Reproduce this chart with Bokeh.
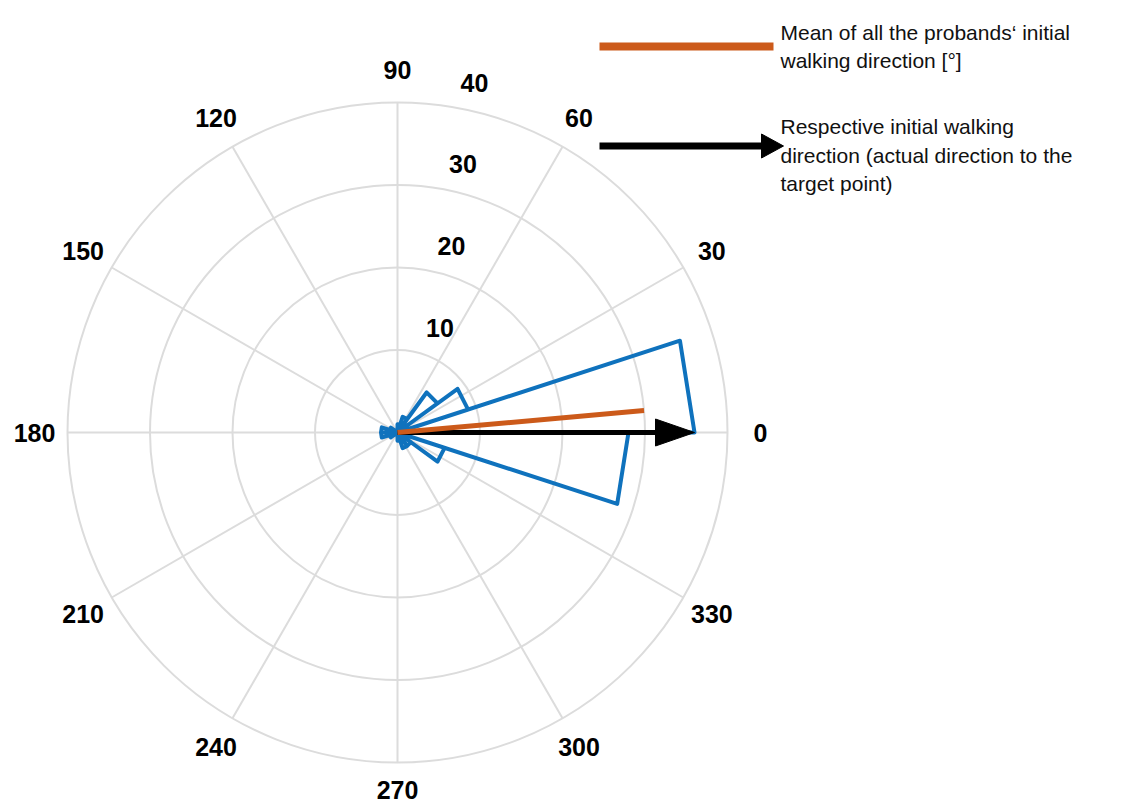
import math
from bokeh.plotting import figure
from bokeh.models import Range1d
from bokeh.core.properties import value
from bokeh.embed import file_html
from bokeh.resources import INLINE

# ---------------- data ----------------
bin_width_deg = 18
rose_counts = [36, 9, 6, 2, 1, 0, 0, 0, 1, 2, 2, 1, 0, 0, 0, 1, 2, 2, 6, 28]
mean_direction_deg = 5.1
mean_length = 30
target_direction_deg = 0
target_length = 36
ring_values = [10, 20, 30, 40]
ring_labels = ["10", "20", "30", "40"]
angle_ticks = [0, 30, 60, 90, 120, 150, 180, 210, 240, 270, 300, 330]
angle_labels = ["0", "30", "60", "90", "120", "150", "180", "210", "240", "270", "300", "330"]
legend_mean_lines = ["Mean of all the probands\u2018 initial", "walking direction [\u00b0]"]
legend_target_lines = ["Respective initial walking", "direction (actual direction to the", "target point)"]

# ---------------- layout ----------------
S = 8.25            # pixels per count unit
CX, CY = 397, 432   # canvas position of the polar origin
W, H = 1132, 805

def pg(X, Y):
    return ((X - CX) / S, (CY - Y) / S)

p = figure(width=W, height=H,
           x_range=Range1d((0 - CX) / S, (W - CX) / S),
           y_range=Range1d((CY - H) / S, CY / S),
           x_axis_type=None, y_axis_type=None,
           toolbar_location=None, output_backend="svg",
           min_border=0, outline_line_color=None)
p.background_fill_color = "white"
p.border_fill_color = "white"

GRID = "#dcdcdc"
BLUE = "#0f72bd"
ORANGE = "#cc5a1a"
FONT = value("Liberation Sans")
rmax = ring_values[-1]

# grid: rings and spokes
p.circle(x=[0] * len(ring_values), y=[0] * len(ring_values), radius=ring_values,
         fill_color=None, line_color=GRID, line_width=2)
p.segment(x0=[0] * len(angle_ticks), y0=[0] * len(angle_ticks),
          x1=[rmax * math.cos(math.radians(a)) for a in angle_ticks],
          y1=[rmax * math.sin(math.radians(a)) for a in angle_ticks],
          line_color=GRID, line_width=2)

# angle labels (the bottom one nudged up so it stays inside the canvas)
lab_r = 44
p.text(x=[lab_r * math.cos(math.radians(a)) for a in angle_ticks],
       y=[lab_r * math.sin(math.radians(a)) for a in angle_ticks],
       y_offset=[-6 if a == 270 else 0 for a in angle_ticks],
       text=angle_labels, text_font=FONT, text_font_style="bold",
       text_font_size="25px", text_color="black",
       text_align="center", text_baseline="middle")

# radial labels (along 82 deg, shifted right/up)
ra = math.radians(82)
p.text(x=[r * math.cos(ra) for r in ring_values],
       y=[r * math.sin(ra) for r in ring_values],
       x_offset=31, y_offset=-23,
       text=ring_labels, text_font=FONT, text_font_style="bold",
       text_font_size="25px", text_color="black",
       text_align="center", text_baseline="middle")

# rose outline
xs, ys = [0.0], [0.0]
for i, c in enumerate(rose_counts):
    a1 = math.radians(i * bin_width_deg)
    a2 = math.radians((i + 1) * bin_width_deg)
    xs += [c * math.cos(a1), c * math.cos(a2), 0.0]
    ys += [c * math.sin(a1), c * math.sin(a2), 0.0]
p.line(xs, ys, line_color=BLUE, line_width=4, line_join="round")

# target direction arrow
ta = math.radians(target_direction_deg)
head_len = 39 / S
head_half = 13.5 / S
shaft_end = target_length - head_len
p.line([0, shaft_end * math.cos(ta)], [0, shaft_end * math.sin(ta)],
       line_color="black", line_width=5)
tip = (target_length * math.cos(ta), target_length * math.sin(ta))
base = (shaft_end * math.cos(ta), shaft_end * math.sin(ta))
nx, ny = -math.sin(ta), math.cos(ta)
p.patch([tip[0], base[0] + head_half * nx, base[0] - head_half * nx],
        [tip[1], base[1] + head_half * ny, base[1] - head_half * ny],
        fill_color="black", line_color="black", line_width=1)

# mean direction line
ma = math.radians(mean_direction_deg)
p.line([0, mean_length * math.cos(ma)], [0, mean_length * math.sin(ma)],
       line_color=ORANGE, line_width=5)

# legend: orange line
(lx0, ly), (lx1, _) = pg(599, 46), pg(773, 46)
p.line([lx0, lx1], [ly, ly], line_color=ORANGE, line_width=8)
# legend: black arrow
(ax0, ay), (ax1, _), (atip, _) = pg(599, 145.5), pg(761, 145.5), pg(783, 145.5)
p.line([ax0, ax1], [ay, ay], line_color="black", line_width=7)
p.patch([atip, ax1, ax1], [ay, ay + 12 / S, ay - 12 / S],
        fill_color="black", line_color="black", line_width=1)

# legend texts
tx = pg(780, 0)[0]
p.text(x=[tx] * 2, y=[pg(0, 31.7)[1], pg(0, 59.5)[1]], text=legend_mean_lines,
       text_font=FONT, text_font_size="21px", text_color="#111111",
       text_align="left", text_baseline="alphabetic")
p.text(x=[tx] * 3, y=[pg(0, 126)[1], pg(0, 154.5)[1], pg(0, 183)[1]], text=legend_target_lines,
       text_font=FONT, text_font_size="21px", text_color="#111111",
       text_align="left", text_baseline="alphabetic")

open("out.html", "w").write(file_html(p, INLINE))
